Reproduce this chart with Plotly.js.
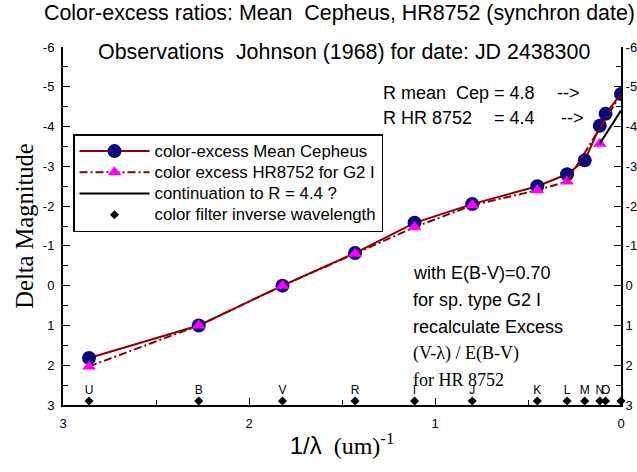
<!DOCTYPE html>
<html>
<head>
<meta charset="utf-8">
<script src="https://cdn.plot.ly/plotly-3.0.1.min.js"></script>
<style>html,body{margin:0;padding:0;background:#fff;}#chart{width:637px;height:472px;}</style>
</head>
<body>
<div id="chart"></div>
<script>
// ---- data ----
const bands = ['U','B','V','R','I','J','K','L','M','N','O',''];
const invWavelength = [2.86, 2.27, 1.82, 1.43, 1.11, 0.80, 0.45, 0.29, 0.195, 0.114, 0.083, 0];
const excessMeanCep = [1.82, 1.0, 0, -0.82, -1.58, -2.05, -2.5, -2.8, -3.15, -4.02, -4.32, -4.82];
const excessHR8752  = [2.03, 1.0, 0, -0.8, -1.47, -2.02, -2.4, -2.62, null, -3.57, null, null];
const continuationX = [0.114, 0];
const continuationY = [-3.57, -4.4];
const filterMarkY = 2.9;
const filterLabelY = 2.66;
const xTicks = [3, 2, 1, 0];
const xTickText = ['3', '2', '1', '0'];
const yTicks = [-6, -5, -4, -3, -2, -1, 0, 1, 2, 3];
const yTickText = ['-6', '-5', '-4', '-3', '-2', '-1', '0', '1', '2', '3'];
const legendNames = ['color-excess Mean Cepheus', 'color excess HR8752 for G2 I',
                     'continuation to R = 4.4 ?', 'color filter inverse wavelength'];

const DARKRED = '#8b0000', NAVY = '#0a0a7a', MAGENTA = '#ff00ff';
const SANS = 'Liberation Sans, Arial, sans-serif';
const SERIF = 'Liberation Serif, Times New Roman, serif';
const lg = s => '<span style="font-size:16.8px">' + s + '</span>';

// HR8752 observed part (U..L)
const hrX = [], hrY = [];
for (let i = 0; i < 8; i++) { hrX.push(invWavelength[i]); hrY.push(excessHR8752[i]); }

const traces = [
  {x: invWavelength, y: excessMeanCep, mode: 'lines+markers', name: lg(legendNames[0]),
   line: {color: DARKRED, width: 2}, marker: {color: NAVY, size: 14, symbol: 'circle'}},
  {x: hrX, y: hrY, mode: 'lines+markers', name: lg(legendNames[1]),
   line: {color: DARKRED, width: 2, dash: '8px,3px,2px,3px'}, marker: {color: MAGENTA, size: 12, symbol: 'triangle-up'}},
  {x: [invWavelength[7], invWavelength[11]], y: [excessHR8752[7], excessMeanCep[11]], mode: 'lines', showlegend: false,
   line: {color: DARKRED, width: 2, dash: '8px,3px,2px,3px'}},
  {x: [invWavelength[9]], y: [excessHR8752[9]], mode: 'markers', showlegend: false,
   marker: {color: MAGENTA, size: 12, symbol: 'triangle-up'}},
  {x: continuationX, y: continuationY, mode: 'lines', name: lg(legendNames[2]),
   line: {color: 'black', width: 2}},
  {x: invWavelength, y: invWavelength.map(() => filterMarkY), mode: 'markers', name: lg(legendNames[3]),
   marker: {color: 'black', size: 7, symbol: 'diamond'}, cliponaxis: false},
  {x: invWavelength, y: invWavelength.map(() => filterLabelY), mode: 'text', text: bands, showlegend: false,
   textfont: {family: SANS, size: 12, color: 'black'}},
  {x: [null], y: [null], yaxis: 'y2', showlegend: false, hoverinfo: 'skip'}
];

function ann(text, px, py, size, family, anchor) {
  return {text: text, xref: 'paper', yref: 'paper', x: (px - 63) / 558, y: (405 - py) / 358,
    xanchor: anchor || 'left', yanchor: 'middle', showarrow: false, font: {family: family || SANS, size: size, color: 'black'}};
}
const NB = '\u00a0';

const layout = {
  width: 637, height: 472,
  margin: {l: 63, r: 16, t: 47, b: 67},
  paper_bgcolor: 'white', plot_bgcolor: 'white',
  showlegend: true,
  title: {text: 'Color-excess ratios: Mean' + NB + NB + 'Cepheus, HR8752 (synchron date)',
          xref: 'container', yref: 'container', x: 44 / 637, xanchor: 'left', y: 1 - 13 / 472, yanchor: 'middle',
          font: {family: SANS, size: 21.4, color: 'black'}},
  xaxis: {range: [3, 0], showgrid: false, zeroline: false, showline: true, linecolor: 'black', linewidth: 2,
          ticks: 'inside', ticklen: 7, tickcolor: 'black', tickwidth: 1, tickvals: xTicks, ticktext: xTickText,
          minor: {dtick: 0.5, ticks: 'inside', ticklen: 5, tickcolor: 'black'},
          tickfont: {family: SANS, size: 13, color: 'black'}, ticklabelstandoff: 5,
          title: {text: '<span style="font-family:Liberation Sans">1/λ</span>' + NB + NB + '(um)<sup>-1</sup>',
                  font: {family: SERIF, size: 24, color: 'black'}, standoff: 8}},
  yaxis: {range: [3, -6], showgrid: false, zeroline: false, showline: true, linecolor: 'black', linewidth: 2,
          ticks: 'inside', ticklen: 7, tickcolor: 'black', tickwidth: 1, tickvals: yTicks, ticktext: yTickText,
          minor: {dtick: 0.5, ticks: 'inside', ticklen: 5, tickcolor: 'black'},
          tickfont: {family: SANS, size: 13, color: 'black'}, ticklabelstandoff: 4,
          title: {text: 'Delta Magnitude', font: {family: SERIF, size: 24.5, color: 'black'}, standoff: 2}},
  yaxis2: {range: [3, -6], overlaying: 'y', side: 'right', showgrid: false, zeroline: false, showline: true,
          linecolor: 'black', linewidth: 2, ticks: 'inside', ticklen: 7, tickcolor: 'black', tickvals: yTicks, ticktext: yTickText,
          minor: {dtick: 0.5, ticks: 'inside', ticklen: 5, tickcolor: 'black'},
          tickfont: {family: SANS, size: 13, color: 'black'}},
  legend: {x: (73 - 63) / 558, y: (405 - 134) / 358, xanchor: 'left', yanchor: 'top',
           bgcolor: 'white', bordercolor: 'black', borderwidth: 1.5,
           font: {family: SANS, size: 14, color: 'black'}, itemwidth: 70, tracegroupgap: 0},
  annotations: [
    ann('Observations' + NB + NB + 'Johnson (1968) for date: JD 2438300', 96, 52, 21.4),
    ann('R mean' + NB + NB + 'Cep = 4.8', 381, 93, 18),
    ann('--&gt;', 555, 93, 18),
    ann('R HR 8752', 381, 118, 18),
    ann('= 4.4', 492, 118, 18),
    ann('--&gt;', 559, 118, 18),
    ann('with E(B-V)=0.70', 411, 273, 18),
    ann('for sp. type G2 I', 411, 300, 18),
    ann('recalculate Excess', 411, 327, 18),
    ann('(V-λ) / E(B-V)', 411, 353, 18, SERIF),
    ann('for HR 8752', 411, 380, 18, SERIF)
  ]
};

Plotly.newPlot('chart', traces, layout, {displayModeBar: false, staticPlot: true});
</script>
</body>
</html>
